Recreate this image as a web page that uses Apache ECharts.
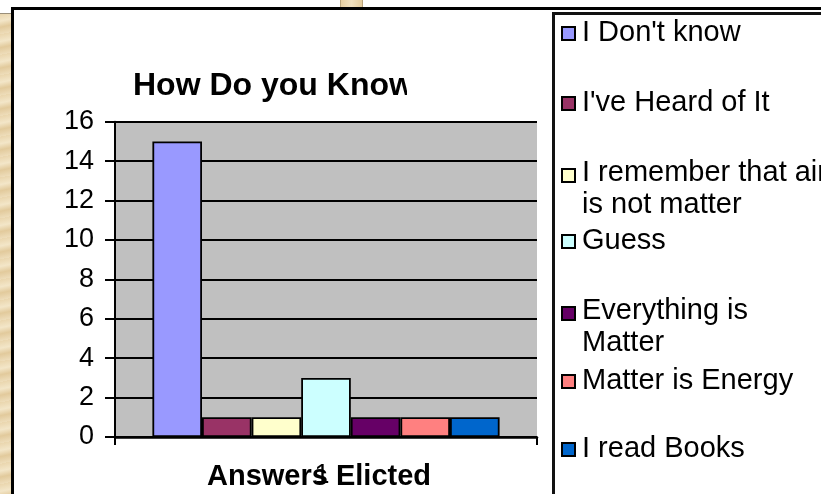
<!DOCTYPE html>
<html>
<head>
<meta charset="utf-8">
<script src="https://cdn.jsdelivr.net/npm/echarts@6/dist/echarts.min.js"></script>
<style>
html,body{margin:0;padding:0;background:#fff;width:821px;height:494px;overflow:hidden;}
#parch{position:absolute;left:0;top:13px;width:11px;height:481px;border-top:1px solid #9a8f7a;
  background:repeating-linear-gradient(168deg,#EAD6AE 0px,#F3E6C8 7px,#E2CA9C 13px,#EEDDBA 20px);}
#patch{position:absolute;left:340px;top:0;width:21px;height:7px;border-left:1px solid #b9a47c;border-right:1px solid #b9a47c;
  background:linear-gradient(90deg,#E6CFA2,#F1E1C0,#E4CC9E);}
#frame{position:absolute;left:11px;top:7px;width:900px;height:600px;border:3px solid #000;background:#fff;box-sizing:border-box;}
#legbox{position:absolute;left:552px;top:12px;width:400px;height:600px;border:3px solid #111;box-sizing:border-box;background:#fff;}
#chart{position:absolute;left:0;top:0;width:821px;height:494px;}
</style>
</head>
<body>
<div id="parch"></div>
<div id="patch"></div>
<div id="frame"></div>
<div id="legbox"></div>
<div id="chart"></div>
<script>
// ---- data ----
const categories = ['1'];
const seriesNames = ["I Don't know", "I've Heard of It", "I remember that air is not matter", "Guess", "Everything is Matter", "Matter is Energy", "I read Books"];
const seriesValues = [15, 1, 1, 3, 1, 1, 1];
const yMin = 0, yMax = 16, yStep = 2;
const chartTitle = 'How Do you Know';
const xAxisTitle = 'Answers Elicted';
const legendLines = {
  "I remember that air is not matter": ["I remember that air", "is not matter"],
  "Everything is Matter": ["Everything is", "Matter"]
};

// ---- styles / layout ----
const palette = ['#9999FF', '#993366', '#FFFFCC', '#CCFFFF', '#660066', '#FF8080', '#0066CC'];
const legendCenters = [34.5, 104.5, 174.5, 242.5, 312.5, 382.5, 450.5];
const FONT = 'Liberation Sans, Arial, sans-serif';

const chart = echarts.init(document.getElementById('chart'));

const series = seriesNames.map((name, i) => ({
  name: name,
  type: 'bar',
  data: [seriesValues[i]],
  barWidth: 49.6,
  barGap: '0%',
  itemStyle: { color: palette[i], borderColor: '#000', borderWidth: 1.8 }
}));

function legendFormatter(n) {
  const lines = legendLines[n];
  if (lines) return '{g| }\n' + lines.map(l => '{b|' + l + '}').join('\n');
  return '{a|' + n + '}\n{h| }';
}

const legends = seriesNames.map((name, i) => {
  const two = legendLines[name] !== undefined;
  return {
    data: [name],
    orient: 'vertical',
    left: 561,
    top: two ? legendCenters[i] - 33 : legendCenters[i] - 16.5,
    padding: 0,
    itemWidth: 13,
    itemHeight: 13,
    icon: 'rect',
    selectedMode: false,
    itemStyle: { borderColor: '#000', borderWidth: 2 },
    formatter: legendFormatter,
    textStyle: {
      fontSize: 29, fontFamily: FONT, color: '#000',
      rich: {
        a: { fontSize: 29, fontFamily: FONT, color: '#000', lineHeight: 31, padding: [0, 0, 0, 2] },
        b: { fontSize: 29, fontFamily: FONT, color: '#000', lineHeight: 32, padding: [0, 0, 0, 2] },
        g: { fontSize: 4, lineHeight: 26 },
        h: { fontSize: 4, lineHeight: 2 }
      }
    }
  };
});

chart.setOption({
  animation: false,
  title: {
    text: chartTitle,
    left: 133, top: 70, padding: 0,
    textStyle: { fontSize: 32, fontWeight: 'bold', fontFamily: FONT, color: '#000', lineHeight: 32 }
  },
  legend: legends,
  grid: {
    left: 115, right: 284, top: 121.7, bottom: 57,
    containLabel: false,
    outerBoundsMode: 'none',
    show: true, backgroundColor: '#C0C0C0', borderWidth: 0
  },
  xAxis: {
    type: 'category',
    data: categories,
    axisLine: { lineStyle: { color: '#000', width: 2.5 } },
    axisTick: { show: true, length: 8, alignWithLabel: false, lineStyle: { color: '#000', width: 2 } },
    axisLabel: { fontSize: 27, fontFamily: FONT, color: '#000', margin: 25, lineHeight: 27, padding: [0, 8, 0, 0] },
    name: xAxisTitle,
    nameLocation: 'middle',
    nameGap: 25.5,
    nameMoveOverlap: false,
    nameTextStyle: { fontSize: 29, fontWeight: 'bold', fontFamily: FONT, color: '#000', lineHeight: 29, padding: [0, 14, 0, 0] }
  },
  yAxis: {
    type: 'value',
    min: yMin, max: yMax, interval: yStep,
    axisLine: { show: true, lineStyle: { color: '#000', width: 2 } },
    axisTick: { show: true, length: 10, lineStyle: { color: '#000', width: 2 } },
    splitLine: { show: true, lineStyle: { color: '#000', width: 2 } },
    axisLabel: { fontSize: 27, fontFamily: FONT, color: '#000', margin: 21 }
  },
  graphic: [{
    type: 'rect', z: 100, silent: true,
    shape: { x: 407, y: 62, width: 40, height: 50 },
    style: { fill: '#fff' }
  }],
  series: series
});
</script>
</body>
</html>
